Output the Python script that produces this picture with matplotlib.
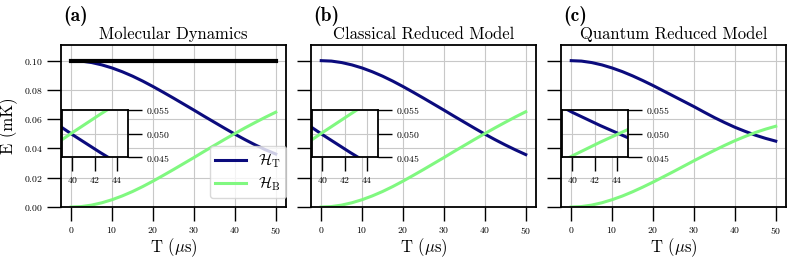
import matplotlib.pyplot as plt
import numpy as np

plt.rcParams['font.family'] = 'serif'
plt.rcParams['font.serif'] = ['cmr10']
plt.rcParams['mathtext.fontset'] = 'cm'
plt.rcParams['axes.formatter.use_mathtext'] = True

# time points (us)
t = np.array([0, 2.5, 5, 7.5, 10, 12.5, 15, 17.5, 20, 22.5, 25,
              27.5, 30, 32.5, 35, 37.5, 40, 42.5, 45, 47.5, 50])

# (a) molecular dynamics, energies in mK
md_HT = np.array([0.1000, 0.0997, 0.0987, 0.0971, 0.0950, 0.0924, 0.0894, 0.0860,
                  0.0823, 0.0784, 0.0744, 0.0703, 0.0662, 0.0620, 0.0579, 0.0538,
                  0.0498, 0.0460, 0.0424, 0.0391, 0.0362])
md_HB = np.array([0.0000, 0.0003, 0.0013, 0.0029, 0.0050, 0.0076, 0.0106, 0.0140,
                  0.0177, 0.0216, 0.0256, 0.0297, 0.0338, 0.0380, 0.0421, 0.0462,
                  0.0502, 0.0541, 0.0578, 0.0614, 0.0648])
md_total_t = np.array([0, 50])
md_total = np.array([0.100, 0.100])

# (b) classical reduced model
cl_HT = np.array([0.1000, 0.0997, 0.0987, 0.0971, 0.0950, 0.0924, 0.0894, 0.0860,
                  0.0823, 0.0784, 0.0744, 0.0703, 0.0662, 0.0620, 0.0579, 0.0538,
                  0.0498, 0.0460, 0.0424, 0.0390, 0.0358])
cl_HB = np.array([0.0000, 0.0003, 0.0013, 0.0029, 0.0050, 0.0076, 0.0106, 0.0140,
                  0.0177, 0.0216, 0.0256, 0.0297, 0.0338, 0.0380, 0.0421, 0.0462,
                  0.0502, 0.0541, 0.0579, 0.0616, 0.0651])

# (c) quantum reduced model
qm_HT = np.array([0.1000, 0.0997, 0.0987, 0.0971, 0.0950, 0.0925, 0.0896, 0.0864,
                  0.0830, 0.0794, 0.0758, 0.0722, 0.0686, 0.0648, 0.0611, 0.0577,
                  0.0545, 0.0517, 0.0491, 0.0469, 0.0450])
qm_HB = np.array([0.0000, 0.0003, 0.0013, 0.0029, 0.0050, 0.0075, 0.0104, 0.0136,
                  0.0170, 0.0206, 0.0242, 0.0279, 0.0316, 0.0352, 0.0387, 0.0421,
                  0.0453, 0.0482, 0.0509, 0.0532, 0.0552])

titles = ['Molecular Dynamics', 'Classical Reduced Model', 'Quantum Reduced Model']
letters = ['(a)', '(b)', '(c)']
series = [(md_HT, md_HB), (cl_HT, cl_HB), (qm_HT, qm_HB)]

blue = '#0b0b7d'
green = '#80f880'

fig = plt.figure(figsize=(7.93, 2.6), dpi=100)
lefts = [61 / 793, 311 / 793, 561 / 793]

for i in range(3):
    ax = fig.add_axes([lefts[i], 53 / 260, 225 / 793, 162 / 260])
    HT, HB = series[i]
    if i == 0:
        ax.plot(md_total_t, md_total, color='black', lw=3, zorder=3)
    l1, = ax.plot(t, HT, color=blue, lw=2.2, label=r'$\mathcal{H}_\mathrm{T}$')
    l2, = ax.plot(t, HB, color=green, lw=2.2, label=r'$\mathcal{H}_\mathrm{B}$')
    ax.set_xlim(-2.5, 52.5)
    ax.set_ylim(0, 0.1107)
    ax.set_xticks([0, 10, 20, 30, 40, 50])
    ax.set_yticks([0, 0.02, 0.04, 0.06, 0.08, 0.10])
    ax.grid(True, color='#c8c8c8', lw=0.8)
    ax.tick_params(direction='out', length=10, width=1.0, labelsize=7, pad=3)
    for s in ax.spines.values():
        s.set_linewidth(1.3)
    ax.set_title(titles[i], fontsize=12, pad=4)
    ax.text(0.01, 1.115, letters[i], transform=ax.transAxes, fontname='cmb10',
            fontsize=14, ha='left', va='bottom')
    ax.set_xlabel(r'T ($\mu$s)', fontsize=12, labelpad=0)
    if i == 0:
        ax.set_ylabel('E (mK)', fontsize=12, labelpad=4)
        ax.legend(handles=[l1, l2], loc='lower right', bbox_to_anchor=(1.0, 0.055),
                  borderaxespad=0, fontsize=11, handlelength=2, framealpha=0.8,
                  edgecolor='#d0d0d0', borderpad=0.35, labelspacing=0.25)
    else:
        ax.tick_params(labelleft=False)

    ins = ax.inset_axes([0.003, 0.307, 0.296, 0.292])
    ins.plot(t, HT, color=blue, lw=2.2)
    ins.plot(t, HB, color=green, lw=2.2)
    ins.set_xlim(39.05, 45.0)
    ins.set_ylim(0.045, 0.055)
    ins.set_xticks([40, 42, 44])
    ins.set_yticks([0.045, 0.050, 0.055])
    ins.yaxis.tick_right()
    ins.grid(True, color='#c8c8c8', lw=0.8)
    ins.tick_params(direction='out', length=10, width=1.0, labelsize=7, pad=3)
    for s in ins.spines.values():
        s.set_linewidth(1.3)
    ins.set_facecolor('white')

fig.savefig('out.png', dpi=100)
